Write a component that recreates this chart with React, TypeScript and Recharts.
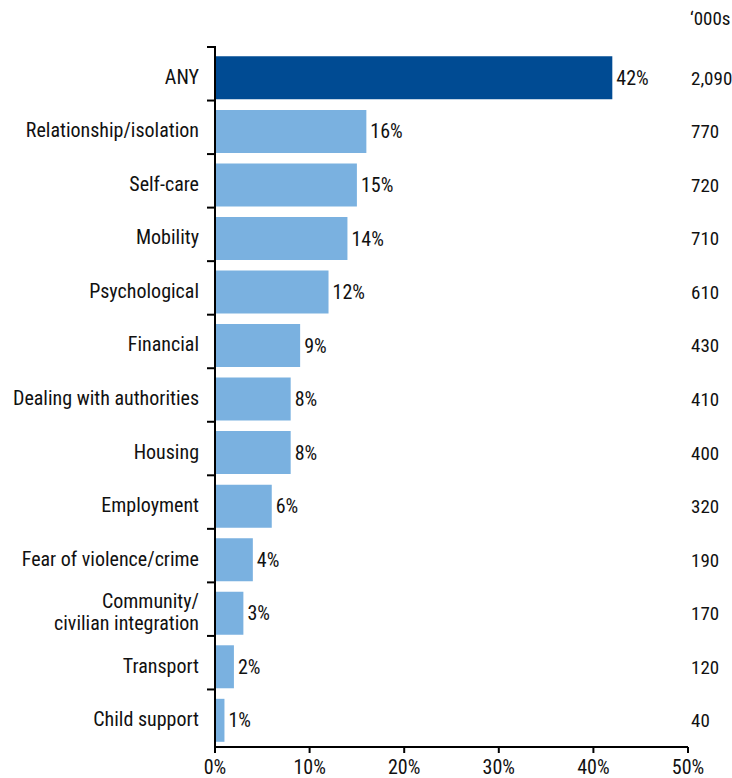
import { Bar, BarChart, Cell, LabelList, XAxis, YAxis } from "recharts";

const categories = [
  "ANY",
  "Relationship/isolation",
  "Self-care",
  "Mobility",
  "Psychological",
  "Financial",
  "Dealing with authorities",
  "Housing",
  "Employment",
  "Fear of violence/crime",
  "Community/\ncivilian integration",
  "Transport",
  "Child support",
];
const percents = [42, 16, 15, 14, 12, 9, 8, 8, 6, 4, 3, 2, 1];
const thousands = ["2,090", "770", "720", "710", "610", "430", "410", "400", "320", "190", "170", "120", "40"];
const xTicks = [0, 10, 20, 30, 40, 50];

const FONT = "'Roboto Condensed', Roboto, sans-serif";
const DARK = "#004b93";
const LIGHT = "#7ab1e0";

const data = categories.map((name, i) => ({ name, pct: percents[i], k: thousands[i] }));

function CategoryTick(props: any) {
  const { x, y, payload, index } = props;
  const half = payload.offset ?? 26.8;
  const lines = String(payload.value).split("\n");
  const lh = 22;
  const ty = y - half - 4;
  const first = y + 6 - ((lines.length - 1) * lh) / 2;
  return (
    <g>
      <line x1={x - 8} x2={x + 1} y1={ty} y2={ty} stroke="#000" strokeWidth={2} />
      {index === 0 && <line x1={x} x2={x} y1={ty} y2={y - half} stroke="#000" strokeWidth={2} />}
      {lines.map((l, i) => (
        <text key={i} x={x - 16} y={first + i * lh} textAnchor="end" fontFamily={FONT} fontSize={20} fill="#111">
          {l}
        </text>
      ))}
    </g>
  );
}

function ThousandsTick(props: any) {
  const { x, y, index } = props;
  return (
    <text x={x + 3} y={y + 7} textAnchor="start" fontFamily={FONT} fontSize={19} fill="#111">
      {thousands[index]}
    </text>
  );
}

function HeaderLabel(props: any) {
  const { viewBox } = props;
  return (
    <text x={viewBox.x + 2} y={viewBox.y - 26} fontFamily={FONT} fontSize={19} fill="#111">
      {"\u2018000s"}
    </text>
  );
}

export default function App() {
  return (
    <div style={{ position: "absolute", left: 0, top: 0, background: "#fff" }}>
      <BarChart
        width={732}
        height={778}
        data={data}
        layout="vertical"
        barCategoryGap="10%"
        margin={{ top: 51, right: 0, bottom: 0, left: 0 }}
      >
        <XAxis
          type="number"
          domain={[0, 50]}
          ticks={xTicks}
          tickFormatter={(v) => `${v}%`}
          axisLine={{ stroke: "#000", strokeWidth: 2 }}
          tickLine={{ stroke: "#000", strokeWidth: 2 }}
          tickSize={6}
          tickMargin={7}
          height={31}
          tick={{ fill: "#111", fontSize: 20, fontFamily: FONT }}
        />
        <YAxis
          yAxisId="left"
          type="category"
          dataKey="name"
          width={215}
          axisLine={{ stroke: "#000", strokeWidth: 2 }}
          tickLine={false}
          tickSize={0}
          tickMargin={0}
          interval={0}
          tick={<CategoryTick />}
        />
        <YAxis
          yAxisId="right"
          orientation="right"
          type="category"
          dataKey="name"
          width={44}
          axisLine={false}
          tickLine={false}
          tickSize={0}
          tickMargin={0}
          interval={0}
          tick={<ThousandsTick />}
          label={<HeaderLabel />}
        />
        <Bar dataKey="pct" yAxisId="left" isAnimationActive={false}>
          {data.map((d, i) => (
            <Cell key={d.name} fill={i === 0 ? DARK : LIGHT} />
          ))}
          <LabelList
            dataKey="pct"
            position="right"
            offset={4}
            formatter={(v: any) => `${v}%`}
            style={{ fill: "#111", fontSize: 20, fontFamily: FONT }}
          />
        </Bar>
      </BarChart>
    </div>
  );
}
